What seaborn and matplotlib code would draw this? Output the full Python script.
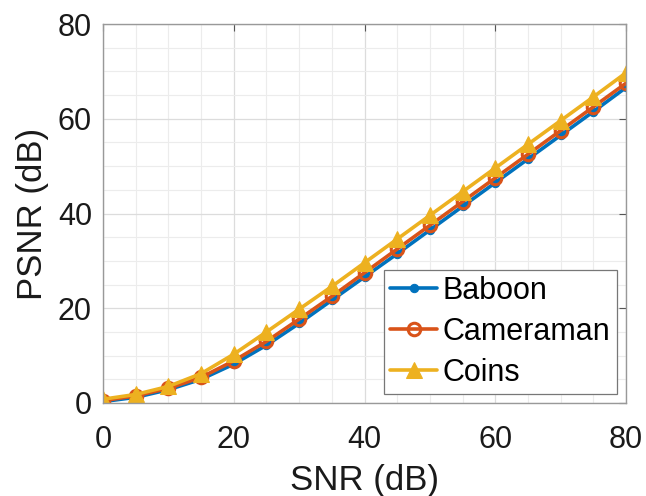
import numpy as np
import pandas as pd
import matplotlib
matplotlib.use("Agg")
import matplotlib.pyplot as plt
import seaborn as sns
from matplotlib.ticker import MultipleLocator

snr = [0, 5, 10, 15, 20, 25, 30, 35, 40, 45, 50, 55, 60, 65, 70, 75, 80]
baboon = [0.3, 1.2, 2.8, 5.0, 8.2, 12.2, 16.8, 21.7, 26.6, 31.5, 36.5, 41.5, 46.5, 51.5, 56.5, 61.5, 66.6]
cameraman = [0.5, 1.5, 3.1, 5.4, 8.9, 13.0, 17.7, 22.5, 27.5, 32.5, 37.5, 42.5, 47.5, 52.5, 57.5, 62.5, 67.5]
coins = [0.8, 1.8, 3.5, 6.2, 10.3, 15.0, 19.8, 24.6, 29.6, 34.6, 39.6, 44.6, 49.6, 54.6, 59.6, 64.6, 69.7]
names = ["Baboon", "Cameraman", "Coins"]

sns.set_theme(style="white")
plt.rcParams['font.family'] = ['Liberation Sans', 'DejaVu Sans']

fig = plt.figure(figsize=(6.46, 4.96), dpi=100)
ax = fig.add_axes([103/646, 93/496, 523/646, 379/496])

colors = ["#0072BD", "#D95319", "#EDB120"]
styles = [
    dict(marker="o", markersize=6, markerfacecolor=colors[0], markeredgecolor=colors[0]),
    dict(marker="o", markersize=9, markerfacecolor="none", markeredgecolor=colors[1], markeredgewidth=2.2),
    dict(marker="^", markersize=11, markerfacecolor=colors[2], markeredgecolor=colors[2]),
]
for name, vals, c, st in zip(names, [baboon, cameraman, coins], colors, styles):
    df = pd.DataFrame({"SNR": snr, "PSNR": vals})
    sns.lineplot(data=df, x="SNR", y="PSNR", ax=ax, color=c, linewidth=2.6,
                 label=name, **st)

ax.set_xlim(0, 80)
ax.set_ylim(0, 80)
ax.xaxis.set_major_locator(MultipleLocator(20))
ax.yaxis.set_major_locator(MultipleLocator(20))
ax.xaxis.set_minor_locator(MultipleLocator(5))
ax.yaxis.set_minor_locator(MultipleLocator(5))
ax.grid(True, which="major", color="#dcdcdc", linewidth=0.9)
ax.grid(True, which="minor", color="#ececec", linewidth=0.8)
ax.set_axisbelow(True)
for s in ax.spines.values():
    s.set_color("#999999")
    s.set_linewidth(1.0)
    s.set_visible(True)
ax.tick_params(which="major", direction="in", length=5, width=0.8, color="#555555",
               top=True, right=True, labelsize=22, labelcolor="#1a1a1a")
ax.tick_params(which="minor", length=0)
ax.tick_params(axis="x", pad=16)
ax.tick_params(axis="y", pad=8)
ax.set_xlabel("SNR (dB)", fontsize=25, color="#1a1a1a", labelpad=6)
ax.set_ylabel("PSNR (dB)", fontsize=25, color="#1a1a1a", labelpad=6)

leg = ax.legend(loc="lower right", fontsize=22, frameon=True, fancybox=False,
                edgecolor="#777777", framealpha=1, borderpad=0.2, labelspacing=0.36,
                handlelength=1.55, handletextpad=0.18, borderaxespad=0.3)
leg.get_frame().set_linewidth(0.9)
for t in leg.get_texts():
    t.set_color("#000000")

fig.savefig("out.png", dpi=100)
